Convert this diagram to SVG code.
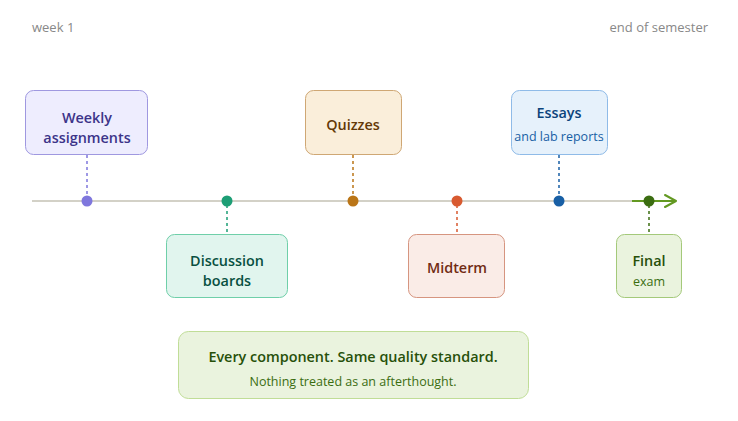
<svg xmlns="http://www.w3.org/2000/svg" width="738" height="421" viewBox="0 0 738 421">
<style>
text{font-family:"Open Sans","Noto Sans","Liberation Sans",sans-serif;text-anchor:middle}
.t{font-size:14.4px;font-weight:600}
.s{font-size:12.5px;font-weight:400}
.lbl{font-size:13px;fill:#888;font-weight:400}
.box{stroke-width:1}
.dash{stroke-width:1.5;stroke-dasharray:3 3;fill:none}
</style>
<rect width="738" height="421" fill="#fff"/>
<text class="lbl" x="32" y="32" style="text-anchor:start">week 1</text>
<text class="lbl" x="708" y="32" style="text-anchor:end">end of semester</text>
<g id="connectors">
<line x1="32" y1="201" x2="634" y2="201" stroke="#d3d1c7" stroke-width="2"/>
<line x1="632" y1="201" x2="675" y2="201" stroke="#639922" stroke-width="2"/>
<polyline points="665,195 676,201 665,207" fill="none" stroke="#639922" stroke-width="2" stroke-linecap="round" stroke-linejoin="round"/>
<line class="dash" x1="87" y1="155" x2="87" y2="197" stroke="#7f77dd"/>
<line class="dash" x1="227" y1="205" x2="227" y2="234" stroke="#1d9e75"/>
<line class="dash" x1="353" y1="155" x2="353" y2="197" stroke="#ba7517"/>
<line class="dash" x1="457" y1="205" x2="457" y2="234" stroke="#d85a30"/>
<line class="dash" x1="559" y1="155" x2="559" y2="197" stroke="#185fa5"/>
<line class="dash" x1="649" y1="205" x2="649" y2="234" stroke="#3b6d11"/>
<circle cx="87" cy="201" r="5.5" fill="#7f77dd"/>
<circle cx="227" cy="201" r="5.5" fill="#1d9e75"/>
<circle cx="353" cy="201" r="5.5" fill="#ba7517"/>
<circle cx="457" cy="201" r="5.5" fill="#d85a30"/>
<circle cx="559" cy="201" r="5.5" fill="#185fa5"/>
<circle cx="649" cy="201" r="5.5" fill="#3b6d11"/>
</g>
<g id="weekly">
<rect class="box" x="25.5" y="90.5" width="122" height="64" rx="8" fill="#eeedfe" stroke="#9f98e0"/>
<text class="t" x="87" y="123" fill="#3c3489">Weekly</text>
<text class="t" x="87" y="143" fill="#3c3489">assignments</text>
</g>
<g id="discussion">
<rect class="box" x="166.5" y="234.5" width="121" height="63" rx="8" fill="#e1f5ee" stroke="#6fcfa9"/>
<text class="t" x="227" y="266" fill="#085041">Discussion</text>
<text class="t" x="227" y="286" fill="#085041">boards</text>
</g>
<g id="quizzes">
<rect class="box" x="305.5" y="90.5" width="96" height="64" rx="8" fill="#faeeda" stroke="#cfa774"/>
<text class="t" x="353" y="130" fill="#633806">Quizzes</text>
</g>
<g id="midterm">
<rect class="box" x="408.5" y="234.5" width="96" height="63" rx="8" fill="#faece7" stroke="#d69580"/>
<text class="t" x="457" y="273" fill="#712b13">Midterm</text>
</g>
<g id="essays">
<rect class="box" x="511.5" y="90.5" width="96" height="64" rx="8" fill="#e6f1fb" stroke="#8fbbe8"/>
<text class="t" x="559" y="118" fill="#0c447c">Essays</text>
<text class="s" x="559" y="141" fill="#185fa5">and lab reports</text>
</g>
<g id="final">
<rect class="box" x="616.5" y="234.5" width="65" height="63" rx="8" fill="#eaf3de" stroke="#a4c97a"/>
<text class="t" x="649" y="266" fill="#27500a">Final</text>
<text class="s" x="649" y="286" fill="#3b6d11">exam</text>
</g>
<g id="summary">
<rect class="box" x="178.5" y="331.5" width="350" height="67" rx="10" fill="#eaf3de" stroke="#c0dd97"/>
<text class="t" x="353" y="362" fill="#27500a">Every component. Same quality standard.</text>
<text class="s" x="353" y="386" fill="#3b6d11">Nothing treated as an afterthought.</text>
</g>
</svg>
